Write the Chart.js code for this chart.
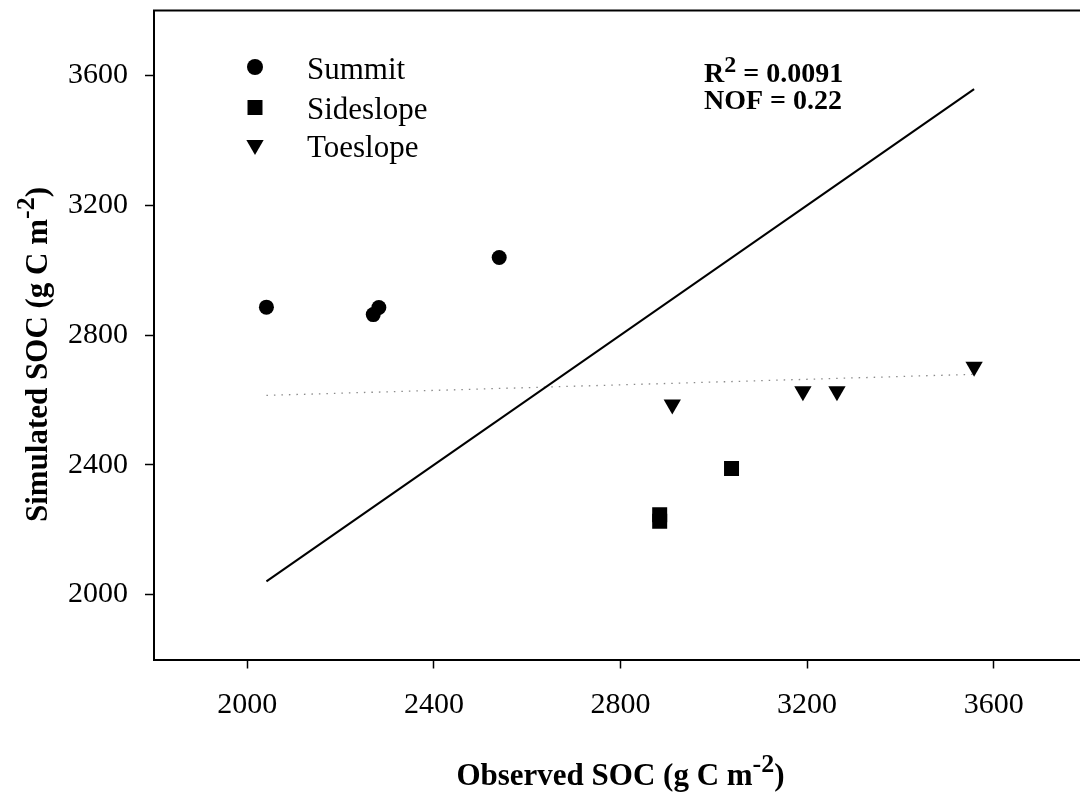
<!DOCTYPE html>
<html>
<head>
<meta charset="utf-8">
<script src="https://cdn.jsdelivr.net/npm/chart.js@4.4.1/dist/chart.umd.min.js"></script>
<style>
  html, body { margin: 0; padding: 0; background: #fff; overflow: hidden; }
  #wrap { position: relative; width: 1100px; height: 796px; }
</style>
</head>
<body>
<div id="wrap"><canvas id="soc-chart" width="1100" height="796"></canvas></div>
<script>
// Observed vs simulated SOC (g C m-2)
const summitObs = [2041, 2270, 2282, 2540];
const summitSim = [2886, 2863, 2885, 3039];
const sideObs = [2884, 2884, 3038];
const sideSim = [2246, 2226, 2389];
const toeObs = [2911, 3191, 3264, 3558];
const toeSim = [2586, 2627, 2627, 2702];

// 1:1 line and regression line end points
const oneToOne = [2041, 3558];
const fitObs = [2041, 3558];
const fitSim = [2614, 2679];

const xTicks = [2000, 2400, 2800, 3200, 3600];
const yTicks = [2000, 2400, 2800, 3200, 3600];

const legendNames = ['Summit', 'Sideslope', 'Toeslope'];
const statLines = ['0.0091', '0.22'];

const SERIF = "'Liberation Serif', 'Times New Roman', serif";

function toPoints(xs, ys) {
  return xs.map((x, i) => ({ x: x, y: ys[i] }));
}

function drawRich(ctx, parts, x, y, align) {
  let total = 0;
  parts.forEach(p => { ctx.font = p.font; total += ctx.measureText(p.text).width; });
  let cx = align === 'center' ? x - total / 2 : x;
  ctx.textAlign = 'left';
  ctx.textBaseline = 'alphabetic';
  parts.forEach(p => {
    ctx.font = p.font;
    ctx.fillText(p.text, cx, y - (p.rise || 0));
    cx += ctx.measureText(p.text).width;
  });
}

function marker(ctx, style, r, rot, x, y) {
  const opts = { pointStyle: style, radius: r, rotation: rot, borderWidth: 0 };
  ctx.fillStyle = '#000';
  ctx.strokeStyle = '#000';
  if (Chart.helpers && Chart.helpers.drawPoint) {
    Chart.helpers.drawPoint(ctx, opts, x, y);
  }
}

const extras = {
  id: 'extras',
  afterDraw(chart) {
    const ctx = chart.ctx;
    const area = chart.chartArea;
    ctx.save();

    // top frame line
    ctx.strokeStyle = '#000';
    ctx.lineWidth = 2;
    ctx.beginPath();
    ctx.moveTo(area.left - 1, area.top);
    ctx.lineTo(area.right + 20, area.top);
    ctx.stroke();

    // legend
    const styles = [['circle', 8, 0], ['rect', 10.6, 0], ['triangle', 10, 180]];
    const markY = [67, 107.5, 145];
    const textY = [79, 118.5, 157];
    legendNames.forEach((name, i) => {
      marker(ctx, styles[i][0], styles[i][1], styles[i][2], 255, markY[i]);
      ctx.fillStyle = '#000';
      ctx.font = '31px ' + SERIF;
      ctx.textAlign = 'left';
      ctx.textBaseline = 'alphabetic';
      ctx.fillText(name, 307, textY[i]);
    });

    // statistics
    ctx.fillStyle = '#000';
    drawRich(ctx, [
      { text: 'R', font: 'bold 28px ' + SERIF },
      { text: '2', font: 'bold 24px ' + SERIF, rise: 10 },
      { text: ' = ' + statLines[0], font: 'bold 28px ' + SERIF }
    ], 704, 81.5, 'left');
    drawRich(ctx, [
      { text: 'NOF = ' + statLines[1], font: 'bold 28px ' + SERIF }
    ], 704, 108.5, 'left');

    // x axis title
    drawRich(ctx, [
      { text: 'Observed SOC (g C m', font: 'bold 31px ' + SERIF },
      { text: '-2', font: 'bold 26px ' + SERIF, rise: 13 },
      { text: ')', font: 'bold 31px ' + SERIF }
    ], 620.5, 785, 'center');

    // y axis title
    ctx.translate(47, 354.5);
    ctx.rotate(-Math.PI / 2);
    drawRich(ctx, [
      { text: 'Simulated SOC (g C m', font: 'bold 31px ' + SERIF },
      { text: '-2', font: 'bold 26px ' + SERIF, rise: 13 },
      { text: ')', font: 'bold 31px ' + SERIF }
    ], 0, 0, 'center');

    ctx.restore();
  }
};

const axisCommon = {
  type: 'linear',
  min: 1800,
  max: 3800,
  grid: {
    display: true,
    drawOnChartArea: false,
    drawTicks: true,
    tickLength: 9,
    tickWidth: 1.5,
    tickColor: '#000'
  },
  border: { display: true, color: '#000', width: 2 },
  title: { display: false }
};

const ctx = document.getElementById('soc-chart').getContext('2d');
new Chart(ctx, {
  type: 'scatter',
  data: {
    datasets: [
      {
        label: legendNames[0],
        data: toPoints(summitObs, summitSim),
        pointStyle: 'circle',
        pointRadius: 7.5,
        backgroundColor: '#000',
        borderColor: '#000',
        borderWidth: 0
      },
      {
        label: legendNames[1],
        data: toPoints(sideObs, sideSim),
        pointStyle: 'rect',
        pointRadius: 10.6,
        backgroundColor: '#000',
        borderColor: '#000',
        borderWidth: 0
      },
      {
        label: legendNames[2],
        data: toPoints(toeObs, toeSim),
        pointStyle: 'triangle',
        rotation: 180,
        pointRadius: 10,
        backgroundColor: '#000',
        borderColor: '#000',
        borderWidth: 0
      },
      {
        type: 'line',
        label: '1:1',
        data: toPoints(oneToOne, oneToOne),
        borderColor: '#000',
        borderWidth: 2,
        pointRadius: 0,
        fill: false
      },
      {
        type: 'line',
        label: 'Regression',
        data: toPoints(fitObs, fitSim),
        borderColor: '#8a8a8a',
        borderWidth: 1.3,
        borderDash: [1.5, 6],
        pointRadius: 0,
        fill: false
      }
    ]
  },
  options: {
    responsive: false,
    animation: false,
    devicePixelRatio: 1,
    layout: { padding: { top: 7, right: 13, left: 0, bottom: 0 } },
    plugins: {
      legend: { display: false },
      tooltip: { enabled: false }
    },
    scales: {
      x: Object.assign({}, axisCommon, {
        position: 'bottom',
        afterBuildTicks: scale => { scale.ticks = xTicks.map(v => ({ value: v })); },
        afterFit: scale => {
          scale.height = 136.5;
          scale.paddingLeft = 0;
          scale.paddingRight = 0;
        },
        ticks: {
          color: '#000',
          padding: 19,
          maxRotation: 0,
          font: { family: SERIF, size: 30 },
          callback: v => String(v)
        }
      }),
      y: Object.assign({}, axisCommon, {
        position: 'left',
        afterBuildTicks: scale => { scale.ticks = yTicks.map(v => ({ value: v })); },
        afterFit: scale => {
          scale.width = 154;
          scale.paddingTop = 0;
          scale.paddingBottom = 0;
        },
        ticks: {
          color: '#000',
          padding: 17,
          font: { family: SERIF, size: 30 },
          callback: v => String(v)
        }
      })
    }
  },
  plugins: [extras]
});
</script>
</body>
</html>
